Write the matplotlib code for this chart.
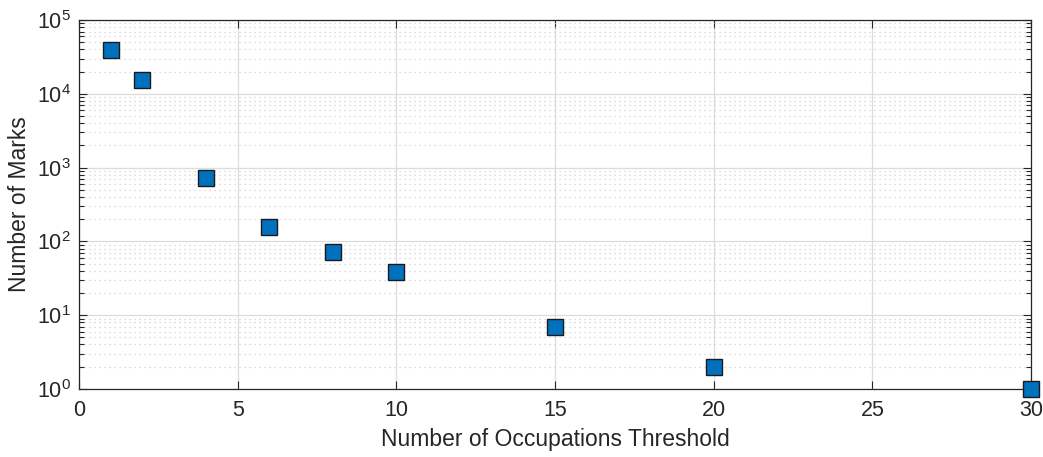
import matplotlib
matplotlib.use("Agg")
import matplotlib.pyplot as plt
import matplotlib.ticker as ticker

# values
threshold = [1, 2, 4, 6, 8, 10, 15, 20, 30]
num_marks = [39000, 15400, 720, 157, 72, 39, 7, 2, 1]

plt.rcParams['font.family'] = ['Liberation Sans', 'DejaVu Sans']
plt.rcParams['mathtext.fontset'] = 'custom'
plt.rcParams['mathtext.rm'] = 'Liberation Sans'
plt.rcParams['mathtext.it'] = 'Liberation Sans'

fig = plt.figure(figsize=(10.43, 4.57), dpi=100)
ax = fig.add_axes([0.0757, 0.149, 0.9128, 0.807])

ax.semilogy(threshold, num_marks, linestyle='none', marker='s', markersize=11.5,
            markerfacecolor='#0072BD', markeredgecolor='#1a1a1a', markeredgewidth=1.0,
            clip_on=False, zorder=5)

ax.set_xlim(0, 30)
ax.set_ylim(1, 1e5)
ax.set_xticks([0, 5, 10, 15, 20, 25, 30])
ax.yaxis.set_major_locator(ticker.LogLocator(base=10, numticks=10))
ax.yaxis.set_minor_locator(ticker.LogLocator(base=10, subs=range(2, 10), numticks=20))
ax.yaxis.set_minor_formatter(ticker.NullFormatter())

ax.grid(True, which='major', color='#dcdcdc', linewidth=0.9, linestyle='-')
ax.grid(True, which='minor', axis='y', color='#d0d0d0', linewidth=0.9, linestyle=(0, (1, 3)))
ax.set_axisbelow(True)

ax.tick_params(which='both', direction='in', top=True, right=True, colors='#262626',
               labelsize=15.5, labelcolor='#262626')
ax.tick_params(axis='x', which='major', length=6, width=0.8, pad=8)
ax.tick_params(axis='y', which='major', length=6, width=0.8, pad=6)
ax.tick_params(which='minor', length=3.5, width=0.8)
for s in ax.spines.values():
    s.set_color('#262626')
    s.set_linewidth(0.9)

ax.set_xlabel("Number of Occupations Threshold", fontsize=16.5, color='#262626', labelpad=5)
ax.set_ylabel("Number of Marks", fontsize=16.5, color='#262626', labelpad=4)

fig.savefig("out.png", dpi=100)
